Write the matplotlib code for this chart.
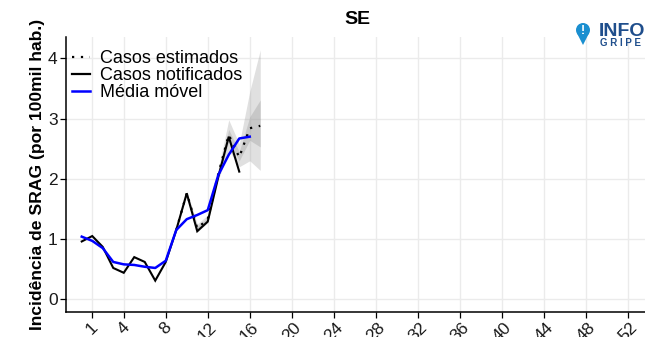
import matplotlib
matplotlib.use("Agg")
import matplotlib.pyplot as plt
from matplotlib.lines import Line2D
from matplotlib.patches import Ellipse, Polygon

plt.rcParams['font.family'] = ['Liberation Sans', 'DejaVu Sans']

# semanas epidemiologicas
weeks_notif = list(range(0, 16))
notificados = [0.96, 1.05, 0.87, 0.52, 0.44, 0.70, 0.62, 0.31, 0.62, 1.15,
               1.76, 1.13, 1.29, 2.03, 2.70, 2.12]

weeks_mm = list(range(0, 17))
media_movel = [1.04, 0.97, 0.85, 0.62, 0.58, 0.57, 0.54, 0.52, 0.64, 1.15,
               1.33, 1.40, 1.48, 2.06, 2.40, 2.67, 2.70]

weeks_est = list(range(9, 18))
estimados = [1.15, 1.76, 1.18, 1.33, 2.08, 2.73, 2.36, 2.84, 2.88]
ic95_low = [1.15, 1.72, 1.12, 1.27, 1.98, 2.48, 2.20, 2.30, 2.14]
ic95_high = [1.15, 1.80, 1.25, 1.40, 2.16, 2.98, 2.58, 3.45, 4.14]
ic50_low = [1.15, 1.74, 1.15, 1.30, 2.03, 2.62, 2.30, 2.64, 2.53]
ic50_high = [1.15, 1.78, 1.21, 1.36, 2.12, 2.82, 2.45, 3.03, 3.31]

xticks = [1, 4, 8, 12, 16, 20, 24, 28, 32, 36, 40, 44, 48, 52]
yticks = [0, 1, 2, 3, 4]

fig = plt.figure(figsize=(6.45, 3.37), dpi=100)
ax = fig.add_axes([0.1023, 0.0751, 0.9036, 0.816])

ax.fill_between(weeks_est, ic95_low, ic95_high, color='#9a9a9a', alpha=0.3, lw=0)
ax.fill_between(weeks_est, ic50_low, ic50_high, color='#9a9a9a', alpha=0.35, lw=0)
ax.plot(weeks_notif, notificados, color='black', lw=1.5, solid_joinstyle='miter')
ax.plot(weeks_est, estimados, color='black', lw=1.6, linestyle=(0, (1, 3)))
ax.plot(weeks_mm, media_movel, color='#0000ff', lw=1.8)

ax.set_xlim(-1.5, 54)
ax.set_ylim(-0.206, 4.36)
ax.set_xticks(xticks)
ax.set_yticks(yticks)
ax.set_xticklabels([str(t) for t in xticks], rotation=45, ha='center', va='top')
ax.tick_params(axis='both', labelsize=12.5, length=4, width=0.9, color='black',
               labelcolor='#1a1a1a', pad=2)
ax.grid(True, color='#ebebeb', lw=1)
ax.set_axisbelow(True)
for s in ['top', 'right']:
    ax.spines[s].set_visible(False)
for s in ['left', 'bottom']:
    ax.spines[s].set_linewidth(1.1)

ax.set_title('SE', fontsize=14, fontweight='bold', pad=9)
ax.set_ylabel('Incidência de SRAG (por 100mil hab.)', fontsize=12.6,
              fontweight='bold', labelpad=2)

handles = [
    Line2D([], [], color='black', lw=1.6, linestyle=(0, (1, 3))),
    Line2D([], [], color='black', lw=1.6),
    Line2D([], [], color='#0000ff', lw=1.8),
]
ax.legend(handles, ['Casos estimados', 'Casos notificados', 'Média móvel'],
          loc='upper left', bbox_to_anchor=(0.005, 0.96), frameon=False,
          fontsize=13, labelspacing=0.0, handlelength=1.0, handletextpad=0.55,
          borderpad=0.15, borderaxespad=0)

# logo InfoGripe (pino + texto)
W, H = 645.0, 337.0
pin_color = '#1a8fd0'
fig.add_artist(Ellipse((583 / W, 1 - 30 / H), 14 / W, 14 / H,
                       transform=fig.transFigure, color=pin_color, lw=0))
fig.add_artist(Polygon([(576.6 / W, 1 - 32.5 / H), (589.4 / W, 1 - 32.5 / H),
                        (583 / W, 1 - 45 / H)], closed=True,
                       transform=fig.transFigure, color=pin_color, lw=0))
fig.text(583 / W, 1 - 31 / H, '!', color='white', fontsize=9, fontweight='bold',
         ha='center', va='center')
fig.text(599 / W, 1 - 31 / H, 'INFO', color='#1f4e8c', fontsize=14,
         fontweight='bold', ha='left', va='center')
fig.text(600 / W, 1 - 43 / H, 'G R I P E', color='#1f4e8c', fontsize=7,
         fontweight='bold', ha='left', va='center')

fig.savefig('out.png', dpi=100)
